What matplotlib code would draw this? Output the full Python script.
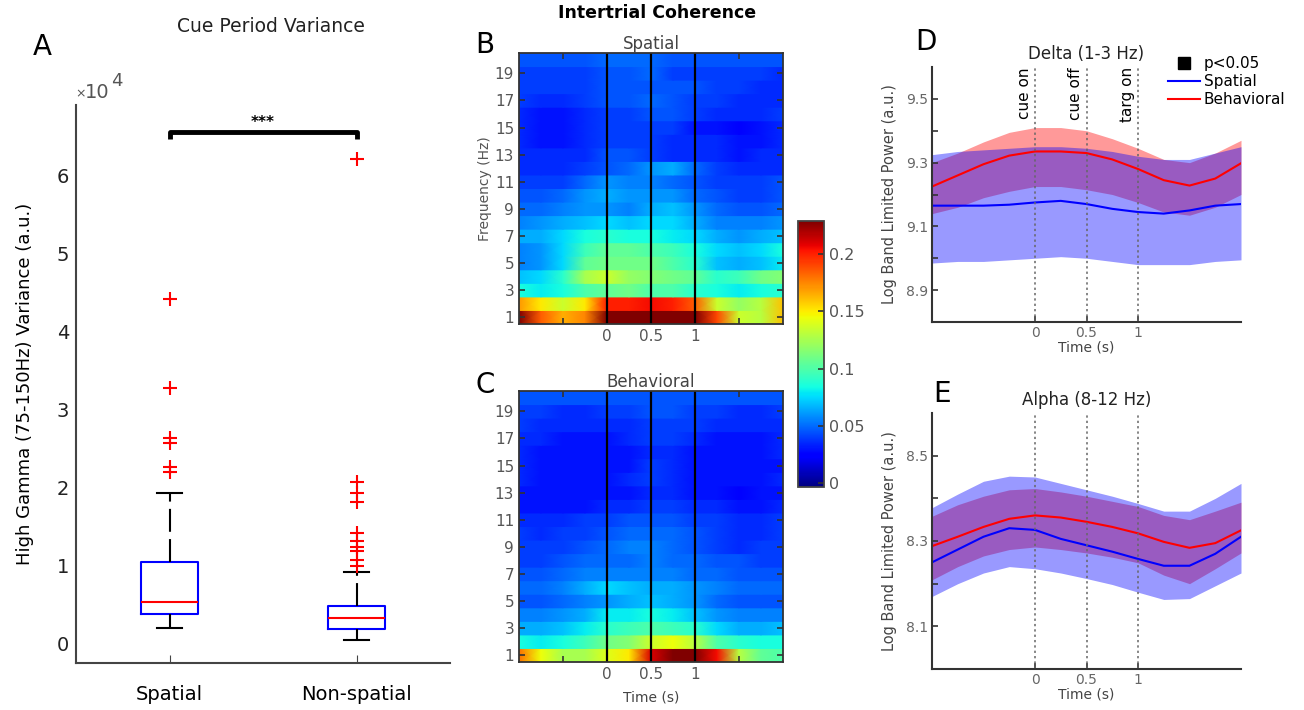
import numpy as np
import matplotlib
matplotlib.use('Agg')
import matplotlib.pyplot as plt
from matplotlib.lines import Line2D
import matplotlib.transforms as mtransforms

plt.rcParams['font.family'] = ['DejaVu Sans']

W, H = 1304, 710

# ---- Panel A: cue period variance (x1e4) ----
box_labels = ['Spatial', 'Non-spatial']
box_whislo = [0.20, 0.05]
box_q1 = [0.38, 0.19]
box_med = [0.53, 0.33]
box_q3 = [1.04, 0.48]
box_whishi = [1.93, 0.91]
fliers_spatial = [2.20, 2.26, 2.57, 2.63, 3.28, 4.41]
fliers_nonspatial = [0.99, 1.07, 1.19, 1.23, 1.31, 1.42, 1.81, 1.93, 2.07, 6.21]
sig_level = 6.55

# ---- Panels B/C: intertrial coherence, rows f = 1..20 Hz ----
itc_times = [-1.0, -0.75, -0.5, -0.25, 0.0, 0.25, 0.5, 0.75, 1.0, 1.25, 1.5, 1.75, 2.0]
itc_freqs = list(range(1, 21))
itc_spatial = [
    [.230, .185, .165, .175, .230, .235, .235, .235, .230, .190, .135, .130, .160],
    [.170, .150, .135, .150, .200, .200, .205, .200, .185, .135, .120, .130, .160],
    [.085, .080, .085, .100, .105, .110, .100, .100, .090, .085, .080, .085, .090],
    [.070, .075, .090, .125, .135, .120, .115, .110, .105, .090, .095, .110, .115],
    [.055, .060, .075, .105, .110, .110, .110, .100, .090, .070, .065, .070, .080],
    [.055, .060, .075, .095, .105, .105, .100, .095, .085, .075, .070, .075, .085],
    [.065, .065, .075, .085, .090, .085, .085, .080, .075, .065, .060, .065, .070],
    [.055, .060, .065, .070, .075, .070, .075, .075, .065, .055, .055, .055, .060],
    [.050, .050, .055, .060, .060, .055, .065, .070, .060, .050, .045, .045, .050],
    [.045, .045, .050, .060, .065, .060, .060, .060, .050, .045, .040, .040, .045],
    [.040, .040, .040, .050, .060, .055, .055, .050, .045, .040, .040, .040, .045],
    [.035, .035, .035, .040, .045, .050, .060, .065, .050, .040, .035, .035, .035],
    [.035, .035, .035, .035, .045, .045, .040, .035, .035, .035, .030, .035, .035],
    [.035, .030, .030, .035, .040, .040, .040, .035, .035, .035, .030, .030, .035],
    [.035, .030, .030, .035, .040, .040, .040, .040, .030, .030, .025, .030, .035],
    [.035, .030, .030, .035, .040, .040, .045, .045, .040, .035, .035, .035, .040],
    [.040, .035, .035, .040, .045, .045, .050, .045, .040, .040, .035, .035, .035],
    [.040, .040, .040, .040, .045, .045, .045, .045, .045, .040, .040, .035, .035],
    [.040, .040, .040, .040, .045, .045, .050, .040, .040, .040, .040, .040, .035],
    [.045, .045, .045, .045, .050, .050, .050, .045, .045, .045, .045, .045, .045],
]
itc_behavioral = [
    [.180, .145, .125, .125, .140, .150, .210, .235, .235, .205, .130, .105, .100],
    [.085, .080, .085, .095, .110, .115, .135, .145, .130, .100, .090, .085, .085],
    [.065, .065, .070, .080, .090, .095, .100, .095, .090, .075, .065, .065, .070],
    [.055, .055, .060, .065, .080, .080, .085, .080, .070, .060, .055, .055, .055],
    [.045, .045, .050, .055, .060, .065, .070, .065, .060, .050, .045, .045, .045],
    [.050, .050, .055, .065, .075, .070, .065, .065, .060, .055, .050, .050, .050],
    [.045, .045, .050, .055, .055, .055, .055, .055, .050, .050, .045, .045, .045],
    [.040, .040, .045, .050, .050, .050, .055, .050, .050, .045, .045, .040, .040],
    [.040, .040, .040, .045, .050, .055, .055, .050, .045, .040, .035, .040, .040],
    [.040, .035, .040, .040, .045, .050, .050, .050, .045, .040, .035, .035, .040],
    [.035, .035, .035, .040, .040, .045, .045, .045, .040, .040, .035, .035, .040],
    [.030, .030, .030, .030, .035, .035, .040, .040, .035, .035, .030, .030, .035],
    [.030, .030, .030, .030, .030, .030, .035, .035, .030, .030, .025, .030, .030],
    [.035, .030, .030, .030, .030, .035, .040, .035, .030, .030, .030, .030, .035],
    [.035, .030, .030, .030, .030, .030, .040, .035, .030, .030, .030, .030, .030],
    [.035, .030, .030, .030, .030, .030, .035, .035, .030, .030, .030, .030, .035],
    [.035, .035, .030, .030, .030, .035, .040, .040, .035, .030, .030, .030, .035],
    [.040, .035, .035, .035, .035, .035, .040, .040, .040, .035, .035, .035, .035],
    [.040, .040, .035, .035, .040, .040, .045, .045, .040, .040, .035, .035, .040],
    [.045, .045, .045, .045, .045, .045, .045, .045, .045, .045, .045, .045, .045],
]
itc_clim = (-0.0035, 0.229)
cbar_ticks = [0, 0.05, 0.1, 0.15, 0.2]
cbar_ticklabels = ['0', '0.05', '0.1', '0.15', '0.2']

# ---- Panels D/E: band limited power ----
bp_times = [-1.0, -0.75, -0.5, -0.25, 0.0, 0.25, 0.5, 0.75, 1.0, 1.25, 1.5, 1.75, 2.0]
event_times = [0, 0.5, 1]
event_names = ['cue on', 'cue off', 'targ on']

delta_spa = [9.165, 9.165, 9.165, 9.168, 9.175, 9.180, 9.170, 9.155, 9.145, 9.140, 9.150, 9.165, 9.170]
delta_spa_hi = [9.325, 9.335, 9.340, 9.345, 9.350, 9.350, 9.345, 9.335, 9.320, 9.310, 9.310, 9.330, 9.350]
delta_spa_lo = [8.985, 8.990, 8.990, 8.995, 9.000, 9.005, 9.000, 8.990, 8.980, 8.980, 8.980, 8.990, 8.995]
delta_beh = [9.225, 9.260, 9.295, 9.322, 9.335, 9.335, 9.330, 9.310, 9.280, 9.245, 9.228, 9.250, 9.298]
delta_beh_hi = [9.300, 9.330, 9.365, 9.395, 9.410, 9.410, 9.400, 9.375, 9.345, 9.310, 9.300, 9.330, 9.370]
delta_beh_lo = [9.140, 9.160, 9.190, 9.210, 9.225, 9.225, 9.215, 9.200, 9.175, 9.145, 9.135, 9.160, 9.200]

alpha_spa = [8.250, 8.280, 8.310, 8.330, 8.326, 8.305, 8.290, 8.275, 8.258, 8.242, 8.242, 8.270, 8.310]
alpha_spa_hi = [8.378, 8.410, 8.440, 8.452, 8.450, 8.435, 8.420, 8.405, 8.388, 8.370, 8.370, 8.400, 8.435]
alpha_spa_lo = [8.170, 8.200, 8.225, 8.240, 8.235, 8.225, 8.212, 8.198, 8.180, 8.163, 8.165, 8.195, 8.225]
alpha_beh = [8.288, 8.310, 8.333, 8.352, 8.360, 8.355, 8.345, 8.333, 8.318, 8.298, 8.284, 8.295, 8.325]
alpha_beh_hi = [8.358, 8.385, 8.405, 8.420, 8.423, 8.415, 8.405, 8.393, 8.381, 8.360, 8.350, 8.370, 8.391]
alpha_beh_lo = [8.209, 8.240, 8.265, 8.280, 8.286, 8.280, 8.272, 8.262, 8.249, 8.220, 8.200, 8.235, 8.272]

GRAY = '#555555'
DARK = '#222222'


def rect(l, t, r, b):
    return [l / W, 1 - b / H, (r - l) / W, (b - t) / H]


def ftext(x, y, s, **kw):
    fig.text(x / W, 1 - y / H, s, **kw)


fig = plt.figure(figsize=(W / 100, H / 100), dpi=100)

# ---------------- A ----------------
axA = fig.add_axes(rect(76, 105, 450, 663))
stats = []
for i, lab in enumerate(box_labels):
    stats.append(dict(label=lab, whislo=box_whislo[i], q1=box_q1[i], med=box_med[i],
                      q3=box_q3[i], whishi=box_whishi[i],
                      fliers=[fliers_spatial, fliers_nonspatial][i]))
axA.bxp(stats, positions=[1, 2], widths=0.3, capwidths=0.13,
        boxprops=dict(color='blue', lw=1.5),
        medianprops=dict(color='red', lw=1.5),
        whiskerprops=dict(color='black', lw=1.5, linestyle=(0, (11, 3.5))),
        capprops=dict(color='black', lw=1.5),
        flierprops=dict(marker='+', markeredgecolor='red', markersize=10, markeredgewidth=1.5))
axA.plot([1, 1, 2, 2], [sig_level - 0.09, sig_level, sig_level, sig_level - 0.09],
         color='black', lw=3.5, solid_capstyle='butt')
axA.text(1.5, sig_level + 0.03, '***', ha='center', va='bottom', fontsize=11, fontweight='bold')
axA.set_xlim(0.5, 2.5)
axA.set_ylim(-0.25, 6.9)
axA.set_yticks(range(0, 7))
axA.set_xticks([1, 2])
axA.set_xticklabels(box_labels, fontsize=14, color='black')
axA.tick_params(axis='y', labelsize=14, labelcolor=DARK, direction='in', length=0, pad=5)
axA.tick_params(axis='x', direction='in', length=6, pad=16, color='#444444')
for s in ['top', 'right']:
    axA.spines[s].set_visible(False)
for s in ['left', 'bottom']:
    axA.spines[s].set_color('#444444')
    axA.spines[s].set_linewidth(1.5)
axA.set_ylabel('High Gamma (75-150Hz) Variance (a.u.)', fontsize=13, color='black', labelpad=16)
ftext(81, 94, '\u00d7', fontsize=9, color=GRAY, ha='center', va='center')
ftext(97, 93, '10', fontsize=14, color=GRAY, ha='center', va='center')
ftext(117, 81, '4', fontsize=13, color=GRAY, ha='center', va='center')
ftext(42, 47, 'A', fontsize=20, ha='center', va='center')
ftext(271, 26, 'Cue Period Variance', fontsize=13.5, color=DARK, ha='center', va='center')

# ---------------- B / C ----------------
def draw_itc(ax, data, title):
    data = np.asarray(data)
    C = np.repeat(data, 2, axis=0)
    yedges = np.repeat(itc_freqs, 2) + np.tile([-0.5, 0.5], len(itc_freqs))
    X, Y = np.meshgrid(itc_times, yedges)
    m = ax.pcolormesh(X, Y, C, shading='gouraud', cmap='jet',
                      vmin=itc_clim[0], vmax=itc_clim[1], rasterized=True)
    for t in event_times:
        ax.axvline(t, color='black', lw=1.6)
    ax.set_xlim(-1, 2)
    ax.set_ylim(0.5, 20.5)
    ax.set_yticks(range(1, 20, 2))
    ax.set_xticks([-0.5, 0, 0.5, 1, 1.5])
    ax.set_xticklabels(['', '0', '0.5', '1', ''])
    ax.tick_params(direction='in', length=4, width=1.2, top=True, right=True,
                   labelsize=11, labelcolor=GRAY, color='#333333')
    for s in ax.spines.values():
        s.set_color('#333333')
        s.set_linewidth(1.3)
    ax.set_title(title, fontsize=12, color='#444444', pad=3)
    return m

axB = fig.add_axes(rect(519, 53, 783, 324))
mB = draw_itc(axB, itc_spatial, 'Spatial')
axB.set_ylabel('Frequency (Hz)', fontsize=10, color=GRAY, labelpad=2)
axC = fig.add_axes(rect(519, 391, 783, 662))
draw_itc(axC, itc_behavioral, 'Behavioral')
axC.set_xlabel('Time (s)', fontsize=10, color='#444444', labelpad=6)

cax = fig.add_axes(rect(798, 221, 824, 487))
cb = fig.colorbar(mB, cax=cax, ticks=cbar_ticks)
cb.ax.set_yticklabels(cbar_ticklabels)
cb.ax.tick_params(direction='in', length=4, width=1.2, labelsize=11.5, labelcolor=GRAY, color='#333333')
cb.outline.set_edgecolor('#444444')
cb.outline.set_linewidth(1.3)

ftext(657, 13, 'Intertrial Coherence', fontsize=12.5, fontweight='bold', color='black', ha='center', va='center')
ftext(485, 45, 'B', fontsize=20, ha='center', va='center')
ftext(485, 385, 'C', fontsize=20, ha='center', va='center')

# ---------------- D / E ----------------
def draw_bp(ax, spa, spa_lo, spa_hi, beh, beh_lo, beh_hi, ylim, yticks, ylabels, title):
    ax.fill_between(bp_times, beh_lo, beh_hi, color='red', alpha=0.4, lw=0)
    ax.fill_between(bp_times, spa_lo, spa_hi, color='blue', alpha=0.4, lw=0)
    ax.plot(bp_times, spa, color='blue', lw=1.5)
    ax.plot(bp_times, beh, color='red', lw=1.5)
    for t in event_times:
        ax.axvline(t, color='#666666', lw=1.1, ls=(0, (1.5, 2)))
    ax.set_xlim(-1, 2)
    ax.set_ylim(*ylim)
    ax.set_yticks(yticks)
    ax.set_yticklabels(ylabels)
    ax.set_xticks(event_times)
    ax.set_xticklabels(['0', '0.5', '1'])
    ax.tick_params(direction='in', length=4, width=1.2, labelsize=10,
                   labelcolor='#666666', color='#333333', pad=3)
    for s in ['top', 'right']:
        ax.spines[s].set_visible(False)
    for s in ['left', 'bottom']:
        ax.spines[s].set_color('#333333')
        ax.spines[s].set_linewidth(1.5)
    ax.set_xlabel('Time (s)', fontsize=10, color='#444444', labelpad=0)
    ax.set_ylabel('Log Band Limited Power (a.u.)', fontsize=10.5, color='#444444', labelpad=6)
    ax.set_title(title, fontsize=12, color=DARK, pad=6)

axD = fig.add_axes(rect(932, 67, 1241, 322))
draw_bp(axD, delta_spa, delta_spa_lo, delta_spa_hi, delta_beh, delta_beh_lo, delta_beh_hi,
        (8.8, 9.6), [8.9, 9.0, 9.1, 9.2, 9.3, 9.4, 9.5],
        ['8.9', '', '9.1', '', '9.3', '', '9.5'], 'Delta (1-3 Hz)')
trans = mtransforms.blended_transform_factory(axD.transData, axD.transAxes)
for t, name in zip(event_times, event_names):
    axD.text(t - 0.03, 1.0, name, transform=trans, rotation=90, ha='right', va='top',
             fontsize=11, color='black')
handles = [Line2D([], [], ls='none', marker='s', color='black', markersize=8),
           Line2D([], [], color='blue', lw=1.5),
           Line2D([], [], color='red', lw=1.5)]
fig.legend(handles, ['p<0.05', 'Spatial', 'Behavioral'], loc='upper left',
           bbox_to_anchor=(1168 / W, 1 - 56 / H), frameon=False, fontsize=11,
           handlelength=2.1, handletextpad=0.25, labelspacing=0.2, borderpad=0,
           borderaxespad=0)

axE = fig.add_axes(rect(932, 413, 1241, 669))
draw_bp(axE, alpha_spa, alpha_spa_lo, alpha_spa_hi, alpha_beh, alpha_beh_lo, alpha_beh_hi,
        (8.0, 8.6), [8.1, 8.2, 8.3, 8.4, 8.5],
        ['8.1', '', '8.3', '', '8.5'], 'Alpha (8-12 Hz)')

ftext(926, 42, 'D', fontsize=20, ha='center', va='center')
ftext(942, 394, 'E', fontsize=20, ha='center', va='center')

fig.savefig('out.png', dpi=100)
